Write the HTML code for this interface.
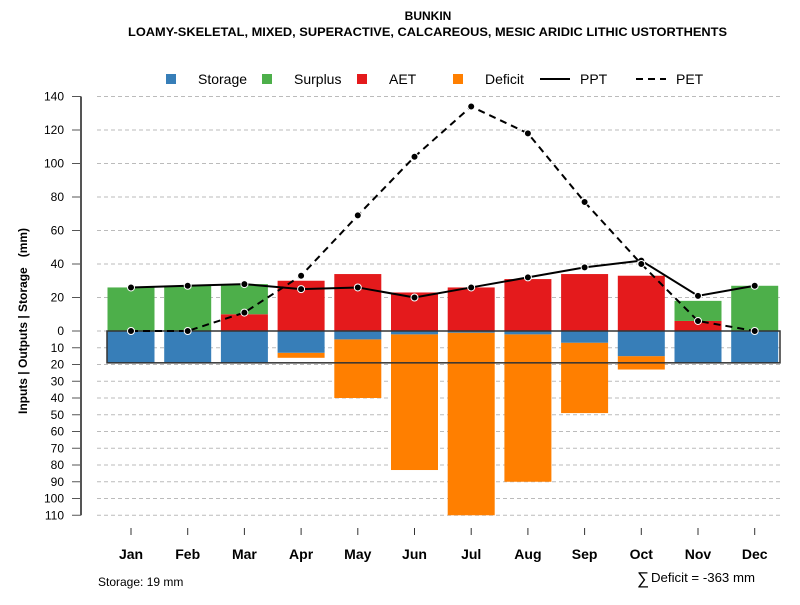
<!DOCTYPE html>
<html><head><meta charset="utf-8"><style>
body{margin:0;background:#fff;font-family:"Liberation Sans",sans-serif}
svg text{font-family:"Liberation Sans",sans-serif}
</style></head><body>
<svg id="c" width="800" height="600" xmlns="http://www.w3.org/2000/svg">
<text x="428" y="20" text-anchor="middle" font-size="12" font-weight="bold">BUNKIN</text>
<text x="128" y="36" font-size="12" font-weight="bold" textLength="599" lengthAdjust="spacingAndGlyphs">LOAMY-SKELETAL, MIXED, SUPERACTIVE, CALCAREOUS, MESIC ARIDIC LITHIC USTORTHENTS</text>
<g>
<rect x="166" y="74" width="10" height="10" fill="#377eb8"/>
<text x="198" y="84" font-size="14">Storage</text>
<rect x="262" y="74" width="10" height="10" fill="#4daf4a"/>
<text x="294" y="84" font-size="14">Surplus</text>
<rect x="357" y="74" width="10" height="10" fill="#e41a1c"/>
<text x="389" y="84" font-size="14">AET</text>
<rect x="453" y="74" width="10" height="10" fill="#ff7f00"/>
<text x="485" y="84" font-size="14">Deficit</text>
<line x1="540" y1="79" x2="570" y2="79" stroke="#000" stroke-width="2"/>
<text x="580" y="84" font-size="14">PPT</text>
<line x1="636" y1="79" x2="666" y2="79" stroke="#000" stroke-width="2" stroke-dasharray="7,5"/>
<text x="676" y="84" font-size="14">PET</text>
</g>
<text transform="translate(27,321) rotate(-90)" text-anchor="middle" font-size="12" font-weight="bold" xml:space="preserve" style="white-space:pre">Inputs | Outputs | Storage   (mm)</text>
<g id="grid"></g><g id="bars"></g><g id="lines"></g><g id="axes"></g>
<text x="98" y="586" font-size="12">Storage: 19 mm</text>
<text x="637" y="584" font-size="17">∑</text>
<text x="651" y="582" font-size="12.5" textLength="104" lengthAdjust="spacingAndGlyphs">Deficit = -363 mm</text>
</svg>
<script>
const months=["Jan","Feb","Mar","Apr","May","Jun","Jul","Aug","Sep","Oct","Nov","Dec"];
const storage=[19,19,19,13,5,2,1,2,7,15,19,19];
const deficit=[0,0,0,3,35,81,109,88,42,8,0,0];
const aet=[0,0,10,30,34,23,26,31,34,33,6,0];
const surplus=[26,27,18,0,0,0,0,0,0,0,12,27];
const ppt=[26,27,28,25,26,20,26,32,38,42,21,27];
const pet=[0,0,11,33,69,104,134,118,77,40,6,0];
const posTicks=[0,20,40,60,80,100,120,140];
const negTicks=[10,20,30,40,50,60,70,80,90,100,110];
const AWC=19;
const NS="http://www.w3.org/2000/svg";
const y0=331,k=1.675;
const yp=v=>y0-v*k, yn=v=>y0+v*k;
const xm=i=>131+i*56.7;
function mk(g,t,a){const e=document.createElementNS(NS,t);for(const p in a)e.setAttribute(p,a[p]);document.getElementById(g).appendChild(e);return e;}
posTicks.forEach(v=>{
 let l=mk("grid","line",{x1:97,x2:780,y1:yp(v),y2:yp(v),stroke:"#bbb","stroke-dasharray":"4,3"});
 
 let t=mk("axes","line",{x1:72,x2:81,y1:yp(v),y2:yp(v),stroke:"#555"});
 
 let tx=mk("axes","text",{x:64,y:yp(v)+4,"text-anchor":"end","font-size":12});tx.textContent=v;
 
});
negTicks.forEach(v=>{
 let l=mk("grid","line",{x1:97,x2:780,y1:yn(v),y2:yn(v),stroke:"#bbb","stroke-dasharray":"4,3"});
 
 let t=mk("axes","line",{x1:72,x2:81,y1:yn(v),y2:yn(v),stroke:"#555"});
 
 let tx=mk("axes","text",{x:64,y:yn(v)+4,"text-anchor":"end","font-size":12});tx.textContent=v;
 
});
let ax=mk("axes","line",{x1:81,x2:81,y1:yp(140),y2:yn(110),stroke:"#555","stroke-width":2});

const bw=47;
months.forEach((m,i)=>{
 const x=xm(i)-bw/2;
 function bar(top,bot,col,name){if(bot-top<=0)return;const r=mk("bars","rect",{x:x,y:top,width:bw,height:bot-top,fill:col});
  }
 bar(yn(storage[i]),yn(storage[i]+deficit[i]),"#ff7f00","bar-deficit-"+m.toLowerCase());
 bar(y0,yn(storage[i]),"#377eb8","bar-storage-"+m.toLowerCase());
 bar(yp(aet[i]),y0,"#e41a1c","bar-aet-"+m.toLowerCase());
 bar(yp(aet[i]+surplus[i]),yp(aet[i]),"#4daf4a","bar-surplus-"+m.toLowerCase());
 let t=mk("axes","line",{x1:xm(i),x2:xm(i),y1:528,y2:535,stroke:"#333"});
 
 let tx=mk("axes","text",{x:xm(i),y:559,"text-anchor":"middle","font-size":14,"font-weight":"bold"});tx.textContent=m;
 
});
let box=mk("bars","rect",{x:107,y:y0,width:673,height:AWC*k,fill:"none",stroke:"#333","stroke-width":1.5});

function series(d,dash,name){
 const p=mk("lines","polyline",{points:d.map((v,i)=>xm(i)+","+yp(v)).join(" "),fill:"none",stroke:"#000","stroke-width":2,"stroke-dasharray":dash});
 
 d.forEach((v,i)=>{const c=mk("lines","circle",{cx:xm(i),cy:yp(v),r:3.5,fill:"#000",stroke:"#fff","stroke-width":1});
  });
}
series(ppt,"none","ppt");
series(pet,"7,5","pet");
</script>
</body></html>
